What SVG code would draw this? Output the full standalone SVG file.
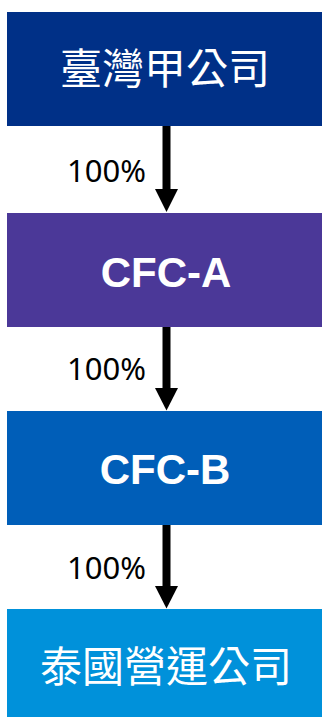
<svg xmlns="http://www.w3.org/2000/svg" width="322" height="717" viewBox="0 0 322 717">
<style>
.box{stroke:none}
.cjk{font-family:"Noto Sans CJK TC","Noto Sans CJK SC",sans-serif;font-size:42px;fill:#fff;text-anchor:middle}
.lat{font-family:"Liberation Sans",Arial,sans-serif;font-weight:bold;font-size:42px;fill:#fff;text-anchor:middle}
.pct{font-family:"Noto Sans","Liberation Sans",sans-serif;font-size:31px;fill:#000;text-anchor:end}
.conn{stroke:#000;stroke-width:8;fill:none}
</style>
<rect width="322" height="717" fill="#fff"/>
<g id="connectors">
<line class="conn" x1="166.5" y1="126" x2="166.5" y2="190"/>
<path d="M155 189 L178 189 L166.5 212 Z" fill="#000"/>
<text class="pct" x="146" y="182">100%</text>
<line class="conn" x1="166.5" y1="327" x2="166.5" y2="389"/>
<path d="M155 388 L178 388 L166.5 410.5 Z" fill="#000"/>
<text class="pct" x="146" y="380">100%</text>
<line class="conn" x1="166.5" y1="525" x2="166.5" y2="587"/>
<path d="M155 586 L178 586 L166.5 608.5 Z" fill="#000"/>
<text class="pct" x="146" y="579">100%</text>
</g>
<g id="node-taiwan">
<rect class="box" x="7" y="12" width="316" height="114" fill="#003087"/>
<text class="cjk" x="165" y="84">臺灣甲公司</text>
</g>
<g id="node-cfc-a">
<rect class="box" x="7" y="213" width="316" height="114" fill="#4B3898"/>
<text class="lat" x="166" y="286.5">CFC-A</text>
</g>
<g id="node-cfc-b">
<rect class="box" x="7" y="411" width="316" height="114" fill="#005EB8"/>
<text class="lat" x="165" y="483.5">CFC-B</text>
</g>
<g id="node-thai">
<rect class="box" x="7" y="609" width="316" height="114" fill="#0091DA"/>
<text class="cjk" x="166" y="682">泰國營運公司</text>
</g>
</svg>
